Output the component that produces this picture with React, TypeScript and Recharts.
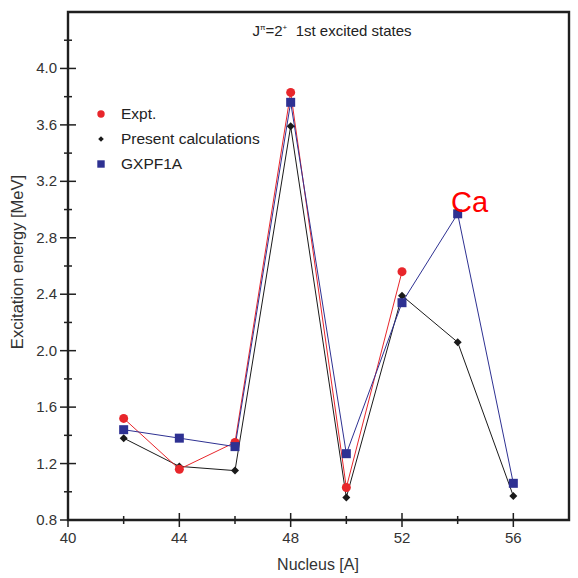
import { LineChart, Line, XAxis, YAxis, ReferenceArea } from 'recharts'

// mass number A of each calculated nucleus
const nuclei = [42, 44, 46, 48, 50, 52, 54, 56]
// first 2+ excitation energies (MeV)
const expt = [1.52, 1.16, 1.35, 3.83, 1.03, 2.56, null, null]
const present = [1.38, 1.18, 1.15, 3.59, 0.96, 2.39, 2.06, 0.97]
const gxpf1a = [1.44, 1.38, 1.32, 3.76, 1.27, 2.34, 2.97, 1.06]

const xTicks = [40, 42, 44, 46, 48, 50, 52, 54, 56]
const xLabels = [40, 44, 48, 52, 56]
const yTicks = [0.8, 1.0, 1.2, 1.4, 1.6, 1.8, 2.0, 2.2, 2.4, 2.6, 2.8, 3.0, 3.2, 3.4, 3.6, 3.8, 4.0, 4.2]
const yLabels = [0.8, 1.2, 1.6, 2.0, 2.4, 2.8, 3.2, 3.6, 4.0]

const RED = '#e8262b'
const BLACK = '#1a1a1a'
const BLUE = '#2e3192'
const FONT = '"Liberation Sans", Arial, Helvetica, sans-serif'
const AXIS = '#1f1f1f'

const data = nuclei.map((a, i) => ({
  A: a,
  expt: expt[i],
  present: present[i],
  gxpf1a: gxpf1a[i],
}))

const isMajor = (list: number[], v: number) => list.some((l) => Math.abs(l - v) < 1e-6)

function XTick({ x, y, payload }: any) {
  const major = isMajor(xLabels, payload.value)
  const len = major ? 7 : 4
  return (
    <g>
      <line x1={x} x2={x} y1={y - len} y2={y + len} stroke={AXIS} strokeWidth={1.5} />
      {major && (
        <text x={x} y={y + 23} textAnchor="middle" fontSize={15} fill="#333" fontFamily={FONT}>
          {payload.value}
        </text>
      )}
    </g>
  )
}

function YTick({ x, y, payload }: any) {
  const major = isMajor(yLabels, payload.value)
  const len = major ? 8 : 4
  return (
    <g>
      <line x1={x - len} x2={x + len} y1={y} y2={y} stroke={AXIS} strokeWidth={1.5} />
      {major && (
        <text x={x - 11} y={y + 5} textAnchor="end" fontSize={15} fill="#333" fontFamily={FONT}>
          {Number(payload.value).toFixed(1)}
        </text>
      )}
    </g>
  )
}

// marcadores
const circleDot = (p: any) =>
  p.cy == null || p.value == null ? (
    <g key={`e-${p.index}`} />
  ) : (
    <circle key={`e-${p.index}`} cx={p.cx} cy={p.cy} r={4.5} fill={RED} />
  )

const diamondDot = (p: any) =>
  p.cy == null ? (
    <g key={`p-${p.index}`} />
  ) : (
    <path
      key={`p-${p.index}`}
      d={`M${p.cx},${p.cy - 4} L${p.cx + 4},${p.cy} L${p.cx},${p.cy + 4} L${p.cx - 4},${p.cy} Z`}
      fill={BLACK}
    />
  )

const squareDot = (p: any) =>
  p.cy == null ? (
    <g key={`g-${p.index}`} />
  ) : (
    <rect key={`g-${p.index}`} x={p.cx - 4.5} y={p.cy - 4.5} width={9} height={9} fill={BLUE} />
  )

const legendItems = [
  { label: 'Expt.', shape: 'circle' },
  { label: 'Present calculations', shape: 'diamond' },
  { label: 'GXPF1A', shape: 'square' },
]

function LegendMarker({ shape }: { shape: string }) {
  return (
    <svg width={10} height={10} style={{ marginRight: 15 }}>
      {shape === 'circle' && <circle cx={5} cy={5} r={3.7} fill={RED} />}
      {shape === 'diamond' && <path d="M5,2.2 L7.8,5 L5,7.8 L2.2,5 Z" fill={BLACK} />}
      {shape === 'square' && <rect x={1.3} y={1.3} width={7.4} height={7.4} fill={BLUE} />}
    </svg>
  )
}

export default function App() {
  return (
    <div
      style={{
        position: 'absolute',
        left: 0,
        top: 0,
        width: 578,
        height: 578,
        background: '#fff',
        fontFamily: FONT,
      }}
    >
      <LineChart
        width={578}
        height={578}
        data={data}
        margin={{ top: 12, right: 9, bottom: 18, left: 8 }}
      >
        <XAxis
          dataKey="A"
          type="number"
          domain={[40, 58]}
          ticks={xTicks}
          interval={0}
          allowDataOverflow
          axisLine={false}
          tickLine={false}
          tickSize={0}
          tickMargin={0}
          height={40}
          tick={<XTick />}
        />
        <YAxis
          type="number"
          domain={[0.8, 4.4]}
          ticks={yTicks}
          interval={0}
          allowDataOverflow
          axisLine={false}
          tickLine={false}
          tickSize={0}
          tickMargin={0}
          width={60}
          tick={<YTick />}
        />
        <ReferenceArea
          x1={40}
          x2={58}
          y1={0.8}
          y2={4.4}
          fill="none"
          stroke={AXIS}
          strokeWidth={2.4}
          fillOpacity={0}
        />
        <Line
          dataKey="present"
          stroke={BLACK}
          strokeWidth={1}
          dot={diamondDot}
          activeDot={false}
          isAnimationActive={false}
        />
        <Line
          dataKey="expt"
          stroke={RED}
          strokeWidth={1}
          dot={circleDot}
          activeDot={false}
          isAnimationActive={false}
        />
        <Line
          dataKey="gxpf1a"
          stroke={BLUE}
          strokeWidth={1}
          dot={squareDot}
          activeDot={false}
          isAnimationActive={false}
        />
      </LineChart>

      {/* title */}
      <div
        style={{
          position: 'absolute',
          left: 0,
          width: 664,
          top: 22,
          textAlign: 'center',
          fontSize: 15,
          color: '#222',
          whiteSpace: 'pre',
        }}
      >
        J<sup style={{ fontSize: 8 }}>π</sup>=2<sup style={{ fontSize: 8 }}>+</sup>
        {'  '}1st excited states
      </div>

      {/* legend */}
      <div style={{ position: 'absolute', left: 96, top: 101, fontSize: 15.5, color: '#222' }}>
        {legendItems.map((item) => (
          <div key={item.label} style={{ display: 'flex', alignItems: 'center', height: 25 }}>
            <LegendMarker shape={item.shape} />
            <span>{item.label}</span>
          </div>
        ))}
      </div>

      {/* Ca annotation */}
      <div
        style={{
          position: 'absolute',
          left: 451,
          top: 186,
          fontSize: 29,
          color: '#ff0000',
          lineHeight: '32px',
        }}
      >
        Ca
      </div>

      {/* axis titles */}
      <div
        style={{
          position: 'absolute',
          left: 0,
          width: 636,
          top: 556,
          textAlign: 'center',
          fontSize: 16,
          color: '#333',
        }}
      >
        Nucleus [A]
      </div>
      <div
        style={{
          position: 'absolute',
          left: 17,
          top: 262,
          fontSize: 16.5,
          color: '#333',
          whiteSpace: 'nowrap',
          transform: 'translate(-50%, -50%) rotate(-90deg)',
        }}
      >
        Excitation energy [MeV]
      </div>
    </div>
  )
}
